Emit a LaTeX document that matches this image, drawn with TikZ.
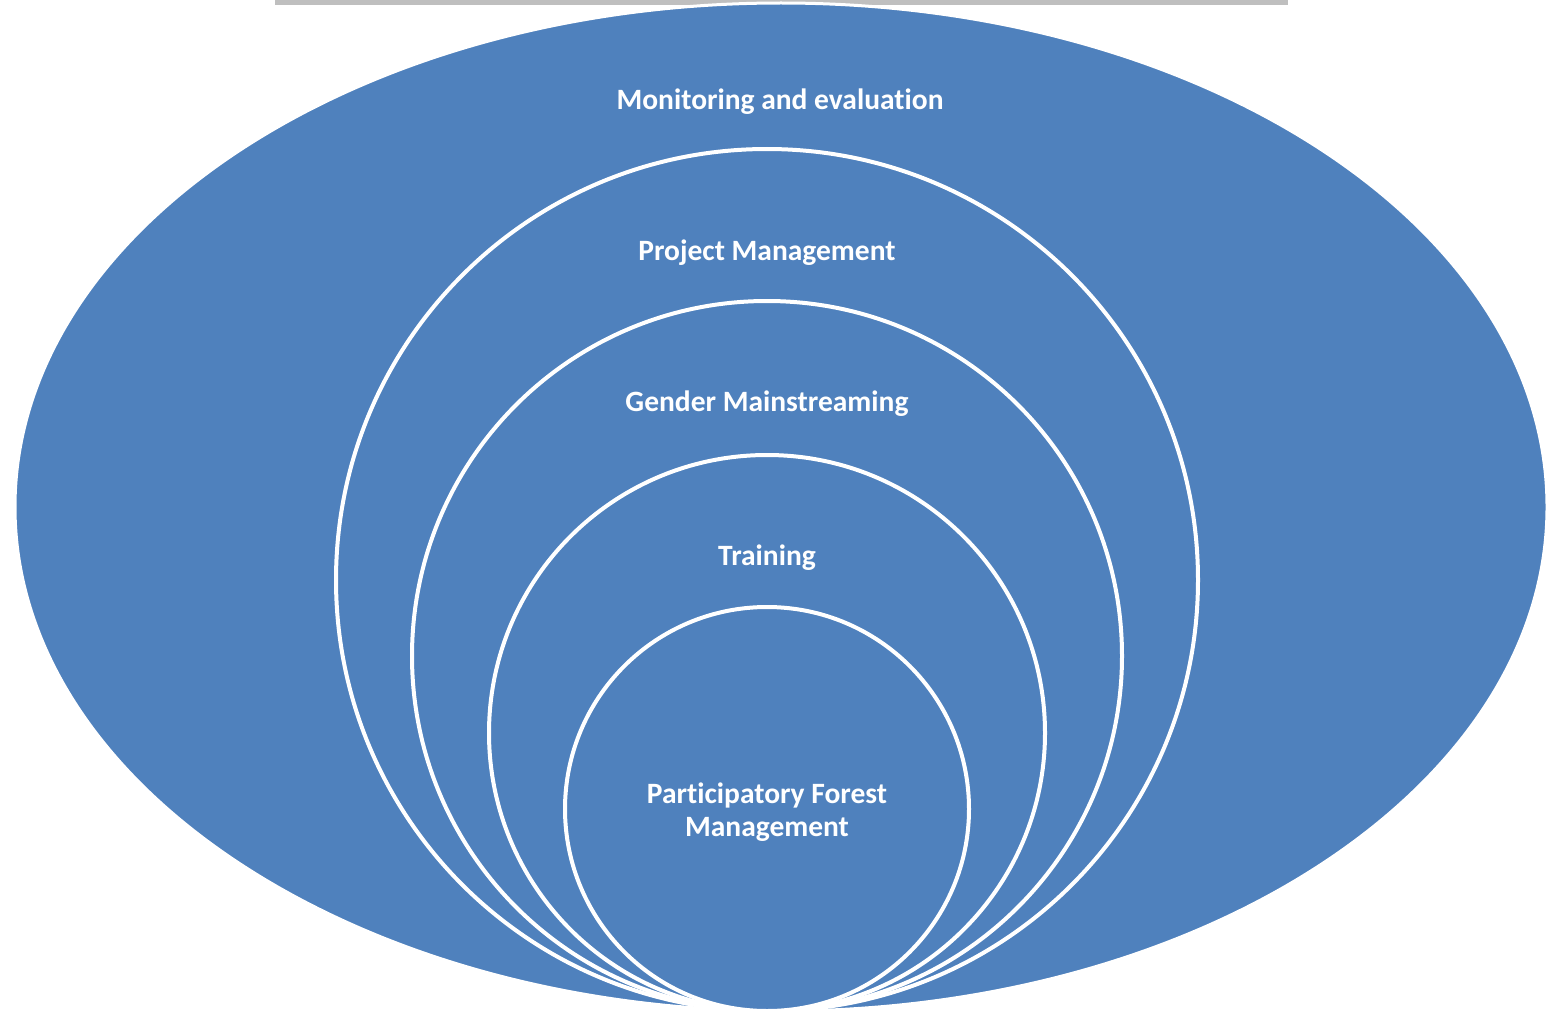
\documentclass[tikz,border=0pt]{standalone}
\usepackage{fontspec}
\setmainfont{Carlito}[Ligatures=NoCommon]
\definecolor{ringblue}{HTML}{4F81BD}
\definecolor{bargray}{HTML}{BFBFBF}
\begin{document}
\begin{tikzpicture}[x=1pt,y=-1pt,ring/.style={fill=ringblue,draw=white,line width=4pt},
    every node/.style={text=white,align=center,font=\fontsize{29.5}{33}\selectfont\bfseries}]
  \useasboundingbox (0,0) rectangle (1558,1014);
  \fill[bargray] (275,0) rectangle (1288,5);
  \draw[ring,line width=3pt] (781,507) ellipse [x radius=766pt,y radius=504pt];
  \draw[ring] (767,580) circle [radius=431pt];
  \draw[ring] (767,656) circle [radius=355pt];
  \draw[ring] (767,733) circle [radius=278pt];
  \draw[ring] (767,809) circle [radius=202pt];
  \node (me) at (780,102) {Monitoring and evaluation};
  \node (pm) at (767,253) {Project Management};
  \node (gm) at (767,404) {Gender Mainstreaming};
  \node (tr) at (767,558) {Training};
  \node (pfm) at (767,812) {Participatory Forest\\Management};
\end{tikzpicture}
\end{document}
